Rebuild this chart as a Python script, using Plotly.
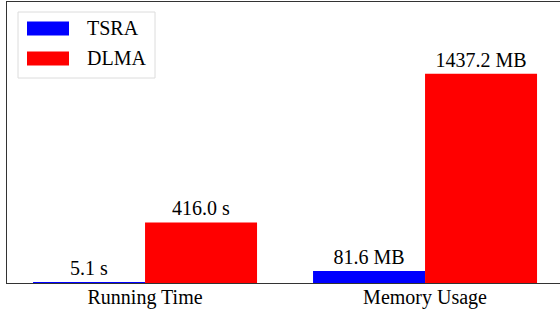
import plotly.graph_objects as go

categories = ["Running Time", "Memory Usage"]
tsra_values = [5.1, 81.6]
dlma_values = [416.0, 1437.2]
tsra_labels = ["5.1 s", "81.6 MB"]
dlma_labels = ["416.0 s", "1437.2 MB"]
series_names = ["TSRA", "DLMA"]
series_colors = ["#0000ff", "#ff0000"]

W, H = 560, 312
ML, MR, MT, MB = 7, 0, 2, 29
FONT = "Liberation Serif, Times New Roman, serif"

fig = go.Figure()
for name, vals, labels, col in [
    (series_names[0], tsra_values, tsra_labels, series_colors[0]),
    (series_names[1], dlma_values, dlma_labels, series_colors[1]),
]:
    fig.add_trace(go.Bar(
        x=categories, y=vals, name=name, marker=dict(color=col, line=dict(width=0)),
        text=labels, textposition="outside", cliponaxis=False,
        textfont=dict(family=FONT, size=20, color="black"),
        showlegend=False,
    ))

# legend drawn as decoration (paper coordinates)
pw, ph = W - ML - MR, H - MT - MB
def px(x): return (x - ML) / pw
def py(y): return 1 - (y - MT) / ph

shapes = [dict(type="rect", xref="paper", yref="paper",
               x0=px(18), x1=px(155), y0=py(78), y1=py(12),
               line=dict(color="#dcdcdc", width=1), fillcolor="rgba(255,255,255,0.8)", layer="above")]
annotations = []
for i, (name, col) in enumerate(zip(series_names, series_colors)):
    yc = 28.5 + i * 30
    shapes.append(dict(type="rect", xref="paper", yref="paper",
                       x0=px(27), x1=px(69), y0=py(yc + 7), y1=py(yc - 7),
                       line=dict(width=0), fillcolor=col, layer="above"))
    annotations.append(dict(xref="paper", yref="paper", x=px(85), y=py(yc),
                            text=name, showarrow=False, xanchor="left", yanchor="middle",
                            font=dict(family=FONT, size=20, color="black")))

fig.update_layout(
    width=W, height=H, margin=dict(l=ML, r=MR, t=MT, b=MB, pad=0),
    paper_bgcolor="white", plot_bgcolor="white",
    barmode="group", bargap=0.2, bargroupgap=0,
    font=dict(family=FONT, size=20, color="black"),
    shapes=shapes, annotations=annotations,
    uniformtext=dict(mode=False),
)
fig.update_xaxes(range=[-0.493, 1.482], showline=True, linecolor="#333", linewidth=1.3,
                 mirror=True, ticks="", showgrid=False, zeroline=False,
                 ticklabelstandoff=-4,
                 tickfont=dict(family=FONT, size=20, color="black"))
fig.update_yaxes(range=[0, 1930], showline=True, linecolor="#333", linewidth=1.3,
                 showticklabels=False, ticks="", showgrid=False, zeroline=False)

fig.write_html("out.html", config={"displayModeBar": False},
               post_script="document.body.style.margin='0';document.body.style.overflow='hidden';")
